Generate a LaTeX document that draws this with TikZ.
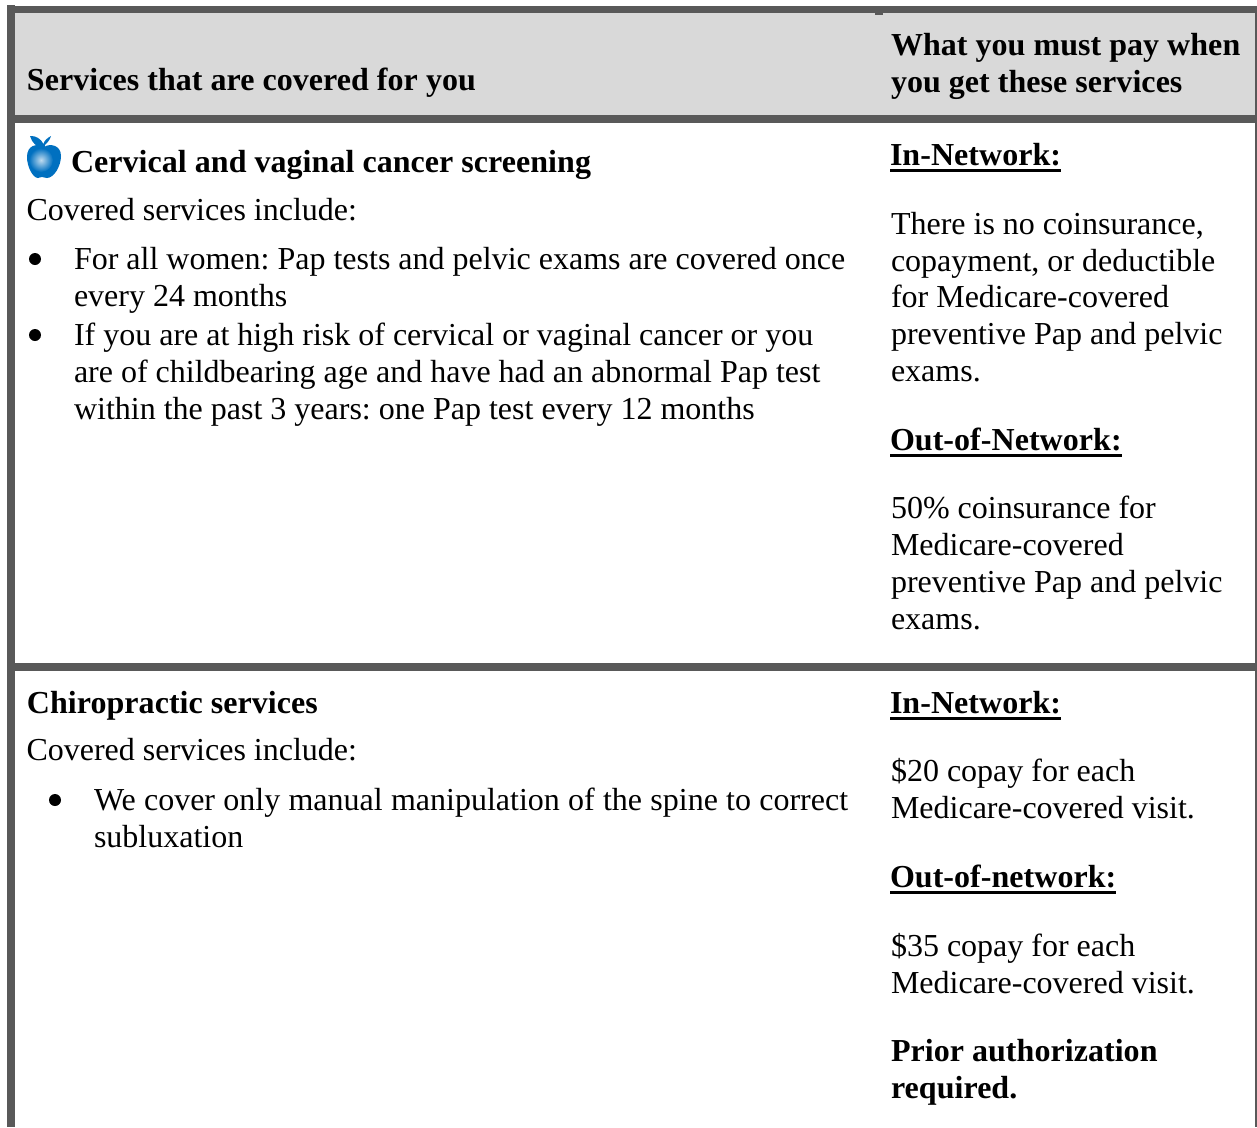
\documentclass[tikz,border=0pt]{standalone}
\usepackage{fontspec}
\setmainfont{Liberation Serif}
\newfontfamily\hdfont[LetterSpace=0.15]{Liberation Serif Bold}
\usetikzlibrary{calc}
\definecolor{rulegrey}{HTML}{595959}
\definecolor{headgrey}{HTML}{D9D9D9}
\definecolor{appleblue}{HTML}{0070C0}
\tikzset{
  x=1pt,y=-1pt,
  txt/.style={anchor=base west,inner sep=0pt,outer sep=0pt,font=\fontsize{32}{37}\selectfont\frenchspacing},
  bld/.style={txt,font=\fontsize{32}{37}\selectfont\hdfont\frenchspacing},
  bul/.style={circle,fill=black,inner sep=0pt,minimum size=12pt},
  ul/.style={line width=3pt,black}
}
\begin{document}
\begin{tikzpicture}
\useasboundingbox (0,0) rectangle (1257,1127);
\fill[white] (0,0) rectangle (1257,1127);
% header band
\fill[headgrey] (15,13) rectangle (1257,115);
% rules
\fill[rulegrey] (7,5) rectangle (15,1127);
\fill[rulegrey] (7,6) rectangle (1257,13);
\fill[rulegrey] (875,13) rectangle (883,14.5);
\fill[rulegrey] (7,115) rectangle (1257,123);
\fill[rulegrey] (7,663) rectangle (1257,671);
\fill[rulegrey] (1255,13) rectangle (1257,1127);
% header text
\node[bld] (h1) at (27,90) {Services that are covered for you};
\node[bld] (h2) at (891,55) {What you must pay when};
\node[bld] (h3) at (891,92) {you get these services};
% apple
\fill[appleblue]
  (44,147) .. controls (50,143) and (61,145) .. (61,156)
  .. controls (61,166) and (54,178) .. (47,178)
  .. controls (45,178) and (44,177) .. (42,177)
  .. controls (40,177) and (39,178) .. (38,178)
  .. controls (33,178) and (27,167) .. (27,157)
  .. controls (27,145) and (37,143) .. (44,147) -- cycle;
\shade[inner color=appleblue!25!white,outer color=appleblue,shading=radial] (41,160) circle[radius=12pt];
\fill[appleblue] (42,149) -- (42.5,147.5) .. controls (37,147.5) and (32,143) .. (30,136)
  .. controls (36,135.5) and (41,139) .. (43.5,144) .. controls (44,141) and (47,138) .. (51,136)
  .. controls (50,140) and (47,143) .. (45,145) -- (44.5,149) -- cycle;
% first row, left
\node[bld] (c1) at (71,172) {Cervical and vaginal cancer screening};
\node[txt] (c2) at (26.5,220) {Covered services include:};
\node[bul] (b1) at (35,259) {};
\node[txt] (c3) at (74,269) {For all women: Pap tests and pelvic exams are covered once};
\node[txt] (c4) at (74,306) {every 24 months};
\node[bul] (b2) at (35,335) {};
\node[txt] (c5) at (74,345) {If you are at high risk of cervical or vaginal cancer or you};
\node[txt] (c6) at (74,382) {are of childbearing age and have had an abnormal Pap test};
\node[txt] (c7) at (74,419) {within the past 3 years: one Pap test every 12 months};
% first row, right
\node[bld] (r1) at (890,165) {In-Network:};
\draw[ul] ($(r1.base west)+(0,5)$) -- ($(r1.base east)+(0,5)$);
\node[txt] (r2) at (891,234) {There is no coinsurance,};
\node[txt] (r3) at (891,271) {copayment, or deductible};
\node[txt] (r4) at (891,307) {for Medicare-covered};
\node[txt] (r5) at (891,344) {preventive Pap and pelvic};
\node[txt] (r6) at (891,381) {exams.};
\node[bld] (r7) at (890,450) {Out-of-Network:};
\draw[ul] ($(r7.base west)+(0,5)$) -- ($(r7.base east)+(0,5)$);
\node[txt] (r8) at (891,518) {50\% coinsurance for};
\node[txt] (r9) at (891,555) {Medicare-covered};
\node[txt] (r10) at (891,592) {preventive Pap and pelvic};
\node[txt] (r11) at (891,629) {exams.};
% second row, left
\node[bld] (d1) at (27,713) {Chiropractic services};
\node[txt] (d2) at (26.5,760) {Covered services include:};
\node[bul] (b3) at (55,800) {};
\node[txt] (d3) at (94,810) {\spaceskip=8.25pt We cover only manual manipulation of the spine to correct};
\node[txt] (d4) at (94,847) {subluxation};
% second row, right
\node[bld] (s1) at (890,713) {In-Network:};
\draw[ul] ($(s1.base west)+(0,5)$) -- ($(s1.base east)+(0,5)$);
\node[txt] (s2) at (891,781) {\$20 copay for each};
\node[txt] (s3) at (891,818) {Medicare-covered visit.};
\node[bld] (s4) at (890,887) {Out-of-network:};
\draw[ul] ($(s4.base west)+(0,5)$) -- ($(s4.base east)+(0,5)$);
\node[txt] (s5) at (891,956) {\$35 copay for each};
\node[txt] (s6) at (891,993) {Medicare-covered visit.};
\node[bld] (s7) at (891,1061) {Prior authorization};
\node[bld] (s8) at (891,1098) {required.};
\end{tikzpicture}
\end{document}
